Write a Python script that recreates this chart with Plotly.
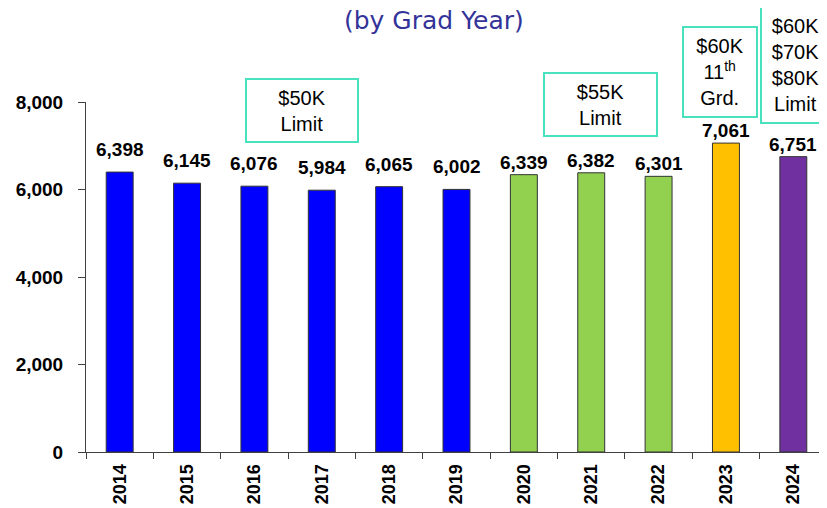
import plotly.graph_objects as go

years = ["2014", "2015", "2016", "2017", "2018", "2019", "2020", "2021", "2022", "2023", "2024"]
counts = [6398, 6145, 6076, 5984, 6065, 6002, 6339, 6382, 6301, 7061, 6751]
groups = ["50K", "50K", "50K", "50K", "50K", "50K", "55K", "55K", "55K", "60K11", "80K"]
group_colors = {"50K": "#0000FF", "55K": "#92D050", "60K11": "#FFC000", "80K": "#7030A0"}
label_shift = {"50K": 10, "55K": 0, "60K11": 0, "80K": 0}

box_texts = ["$50K<br>Limit", "$55K<br>Limit", "$60K<br>11<sup>th</sup><br>Grd.", "$60K<br>$70K<br>$80K<br>Limit"]

# page body has an 8px default margin; work in screen pixels
OFF = 8
SW, SH = 827, 508
PL, PR, PT, PB = 86, 827, 102, 452  # plot area in screen pixels
W, H = SW - OFF, SH - OFF
L, T = PL - OFF, PT - OFF
R, B = SW - PR, SH - PB
PW, PH = PR - PL, PB - PT


def px(x):
    return (x - PL) / PW


def py(y):
    return (PB - y) / PH


fig = go.Figure()
fig.add_trace(go.Bar(
    x=years, y=counts, width=0.4,
    marker=dict(color=[group_colors[g] for g in groups], line=dict(color="#333333", width=1)),
    hoverinfo="x+y",
))

anns = []
for i, (v, g) in enumerate(zip(counts, groups)):
    anns.append(dict(x=i, y=v, xref="x", yref="y", text=f"{v:,}", showarrow=False,
                     yanchor="bottom", yshift=label_shift[g],
                     font=dict(family="Liberation Sans, Arial", size=19, color="black", weight="bold")))

# limit boxes: (center x px, center y px, width, height) in screen pixels
box_geo = [(302, 110.5, 110, 61), (600.5, 104.5, 111, 61), (720, 72, 72, 88), (795.5, 65, 67, 114)]
for txt, (cx, cy, bw, bh) in zip(box_texts, box_geo):
    anns.append(dict(x=px(cx), y=py(cy), xref="paper", yref="paper", text=txt, showarrow=False,
                     xanchor="center", yanchor="middle", width=bw, height=bh,
                     bordercolor="#48E3BE", borderwidth=2, borderpad=0, align="center",
                     font=dict(family="Liberation Sans, Arial", size=20, color="black")))

anns.append(dict(x=px(434), y=py(21), xref="paper", yref="paper", text="(by Grad Year)",
                 showarrow=False, xanchor="center", yanchor="middle",
                 font=dict(family="DejaVu Sans", size=25, color="#333399")))

fig.update_layout(
    width=W, height=H, margin=dict(l=L, r=R, t=T, b=B, autoexpand=False),
    plot_bgcolor="white", paper_bgcolor="white", showlegend=False,
    annotations=anns,
    xaxis=dict(type="category", range=[-0.5, len(years) - 0.5], tickson="boundaries", ticks="outside",
               ticklen=6, tickcolor="#404040",
               showline=True, linecolor="#404040", linewidth=1, showgrid=False, tickangle=-90,
               tickfont=dict(family="Liberation Sans, Arial", size=18, color="black", weight="bold"),
               ticklabelstandoff=4, automargin=False),
    yaxis=dict(range=[0, 8000], dtick=2000, tickformat=",", ticks="outside", ticklen=7, tickcolor="#404040",
               showline=True, linecolor="#404040", linewidth=1, showgrid=False, zeroline=False,
               tickfont=dict(family="Liberation Sans, Arial", size=19, color="black", weight="bold"),
               ticklabelstandoff=11, automargin=False),
)

fig.write_html("out.html")
